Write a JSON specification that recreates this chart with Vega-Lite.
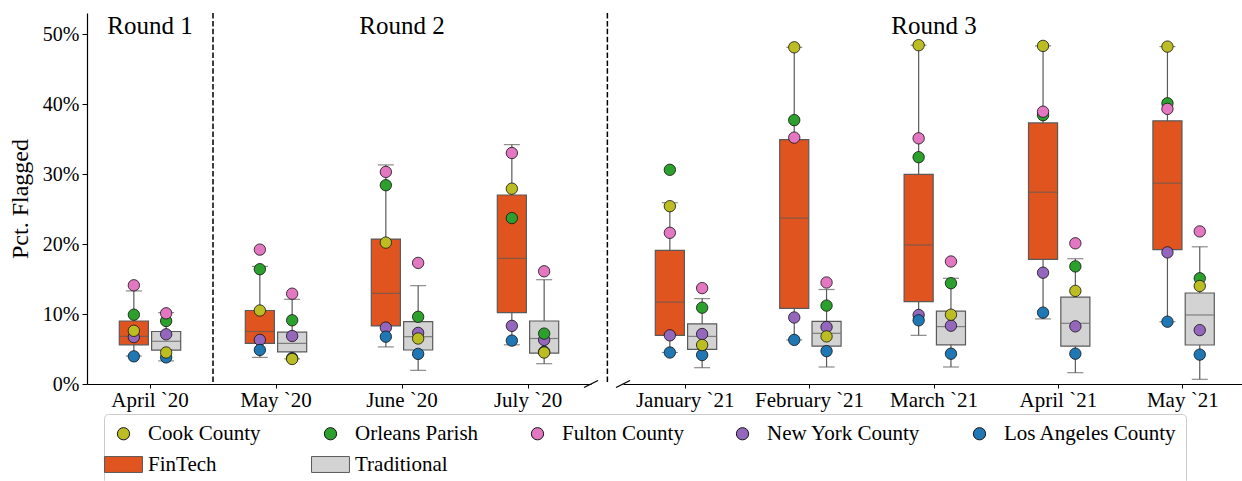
{
  "$schema": "https://vega.github.io/schema/vega-lite/v6.json",
  "padding": {"left": 8, "top": 12, "right": 0, "bottom": 0},
  "background": "white",
  "spacing": 4,
  "config": {
    "font": "Liberation Serif",
    "view": {"stroke": null},
    "axis": {"labelFont": "Liberation Serif", "labelFontSize": 20, "labelColor": "black", "domainColor": "black", "domainWidth": 1.2, "tickColor": "black", "tickWidth": 1, "titleFont": "Liberation Serif", "titleFontWeight": "normal", "titleColor": "black", "grid": false},
    "legend": {"labelFont": "Liberation Serif", "labelFontSize": 21, "labelColor": "black", "symbolSize": 150, "symbolStrokeWidth": 1, "labelOffset": 14, "columnPadding": 48, "rowPadding": 9, "padding": 9, "strokeColor": "#cccccc", "cornerRadius": 4, "fillColor": "white", "symbolOpacity": 1, "labelLimit": 300}
  },
  "datasets": {
    "boxes": [
      {"month":"April `20","round":"Round 1","type":"FinTech","lower":0.040,"q1":0.056,"median":0.068,"q3":0.090,"upper":0.133},
      {"month":"April `20","round":"Round 1","type":"Traditional","lower":0.033,"q1":0.0485,"median":0.061,"q3":0.075,"upper":0.102},
      {"month":"May `20","round":"Round 2","type":"FinTech","lower":0.038,"q1":0.058,"median":0.075,"q3":0.105,"upper":0.168},
      {"month":"May `20","round":"Round 2","type":"Traditional","lower":0.036,"q1":0.046,"median":0.058,"q3":0.074,"upper":0.121},
      {"month":"June `20","round":"Round 2","type":"FinTech","lower":0.053,"q1":0.083,"median":0.1295,"q3":0.207,"upper":0.313},
      {"month":"June `20","round":"Round 2","type":"Traditional","lower":0.0195,"q1":0.0486,"median":0.0676,"q3":0.089,"upper":0.1405},
      {"month":"July `20","round":"Round 2","type":"FinTech","lower":0.056,"q1":0.102,"median":0.1795,"q3":0.270,"upper":0.342},
      {"month":"July `20","round":"Round 2","type":"Traditional","lower":0.029,"q1":0.044,"median":0.065,"q3":0.090,"upper":0.149},
      {"month":"January `21","round":"Round 3","type":"FinTech","lower":0.045,"q1":0.0695,"median":0.117,"q3":0.191,"upper":0.259},
      {"month":"January `21","round":"Round 3","type":"Traditional","lower":0.0233,"q1":0.0495,"median":0.068,"q3":0.086,"upper":0.122},
      {"month":"February `21","round":"Round 3","type":"FinTech","lower":0.063,"q1":0.108,"median":0.237,"q3":0.349,"upper":0.481},
      {"month":"February `21","round":"Round 3","type":"Traditional","lower":0.0243,"q1":0.054,"median":0.0724,"q3":0.0895,"upper":0.135},
      {"month":"March `21","round":"Round 3","type":"FinTech","lower":0.0695,"q1":0.1176,"median":0.1986,"q3":0.2995,"upper":0.484},
      {"month":"March `21","round":"Round 3","type":"Traditional","lower":0.0243,"q1":0.056,"median":0.082,"q3":0.104,"upper":0.151},
      {"month":"April `21","round":"Round 3","type":"FinTech","lower":0.093,"q1":0.178,"median":0.274,"q3":0.373,"upper":0.483},
      {"month":"April `21","round":"Round 3","type":"Traditional","lower":0.0162,"q1":0.054,"median":0.0867,"q3":0.124,"upper":0.179},
      {"month":"May `21","round":"Round 3","type":"FinTech","lower":0.089,"q1":0.192,"median":0.287,"q3":0.376,"upper":0.482},
      {"month":"May `21","round":"Round 3","type":"Traditional","lower":0.0067,"q1":0.0557,"median":0.0986,"q3":0.130,"upper":0.196}
    ],
    "points": [
      {"month":"April `20","round":"Round 1","type":"FinTech","series":"New York County","pct":0.067},
      {"month":"April `20","round":"Round 1","type":"FinTech","series":"Los Angeles County","pct":0.0395},
      {"month":"April `20","round":"Round 1","type":"FinTech","series":"Orleans Parish","pct":0.099},
      {"month":"April `20","round":"Round 1","type":"FinTech","series":"Fulton County","pct":0.141},
      {"month":"April `20","round":"Round 1","type":"FinTech","series":"Cook County","pct":0.076},
      {"month":"April `20","round":"Round 1","type":"Traditional","series":"New York County","pct":0.071},
      {"month":"April `20","round":"Round 1","type":"Traditional","series":"Los Angeles County","pct":0.038},
      {"month":"April `20","round":"Round 1","type":"Traditional","series":"Orleans Parish","pct":0.090},
      {"month":"April `20","round":"Round 1","type":"Traditional","series":"Fulton County","pct":0.101},
      {"month":"April `20","round":"Round 1","type":"Traditional","series":"Cook County","pct":0.045},
      {"month":"May `20","round":"Round 2","type":"FinTech","series":"New York County","pct":0.063},
      {"month":"May `20","round":"Round 2","type":"FinTech","series":"Los Angeles County","pct":0.0486},
      {"month":"May `20","round":"Round 2","type":"FinTech","series":"Orleans Parish","pct":0.164},
      {"month":"May `20","round":"Round 2","type":"FinTech","series":"Fulton County","pct":0.192},
      {"month":"May `20","round":"Round 2","type":"FinTech","series":"Cook County","pct":0.105},
      {"month":"May `20","round":"Round 2","type":"Traditional","series":"New York County","pct":0.0686},
      {"month":"May `20","round":"Round 2","type":"Traditional","series":"Los Angeles County","pct":0.037},
      {"month":"May `20","round":"Round 2","type":"Traditional","series":"Orleans Parish","pct":0.091},
      {"month":"May `20","round":"Round 2","type":"Traditional","series":"Fulton County","pct":0.129},
      {"month":"May `20","round":"Round 2","type":"Traditional","series":"Cook County","pct":0.0357},
      {"month":"June `20","round":"Round 2","type":"FinTech","series":"New York County","pct":0.0805},
      {"month":"June `20","round":"Round 2","type":"FinTech","series":"Los Angeles County","pct":0.0676},
      {"month":"June `20","round":"Round 2","type":"FinTech","series":"Orleans Parish","pct":0.284},
      {"month":"June `20","round":"Round 2","type":"FinTech","series":"Fulton County","pct":0.303},
      {"month":"June `20","round":"Round 2","type":"FinTech","series":"Cook County","pct":0.202},
      {"month":"June `20","round":"Round 2","type":"Traditional","series":"New York County","pct":0.073},
      {"month":"June `20","round":"Round 2","type":"Traditional","series":"Los Angeles County","pct":0.043},
      {"month":"June `20","round":"Round 2","type":"Traditional","series":"Orleans Parish","pct":0.096},
      {"month":"June `20","round":"Round 2","type":"Traditional","series":"Fulton County","pct":0.173},
      {"month":"June `20","round":"Round 2","type":"Traditional","series":"Cook County","pct":0.065},
      {"month":"July `20","round":"Round 2","type":"FinTech","series":"New York County","pct":0.083},
      {"month":"July `20","round":"Round 2","type":"FinTech","series":"Los Angeles County","pct":0.062},
      {"month":"July `20","round":"Round 2","type":"FinTech","series":"Orleans Parish","pct":0.237},
      {"month":"July `20","round":"Round 2","type":"FinTech","series":"Fulton County","pct":0.330},
      {"month":"July `20","round":"Round 2","type":"FinTech","series":"Cook County","pct":0.279},
      {"month":"July `20","round":"Round 2","type":"Traditional","series":"New York County","pct":0.063},
      {"month":"July `20","round":"Round 2","type":"Traditional","series":"Los Angeles County","pct":0.046},
      {"month":"July `20","round":"Round 2","type":"Traditional","series":"Orleans Parish","pct":0.072},
      {"month":"July `20","round":"Round 2","type":"Traditional","series":"Fulton County","pct":0.161},
      {"month":"July `20","round":"Round 2","type":"Traditional","series":"Cook County","pct":0.045},
      {"month":"January `21","round":"Round 3","type":"FinTech","series":"New York County","pct":0.0695},
      {"month":"January `21","round":"Round 3","type":"FinTech","series":"Los Angeles County","pct":0.045},
      {"month":"January `21","round":"Round 3","type":"FinTech","series":"Orleans Parish","pct":0.306},
      {"month":"January `21","round":"Round 3","type":"FinTech","series":"Fulton County","pct":0.216},
      {"month":"January `21","round":"Round 3","type":"FinTech","series":"Cook County","pct":0.254},
      {"month":"January `21","round":"Round 3","type":"Traditional","series":"New York County","pct":0.0714},
      {"month":"January `21","round":"Round 3","type":"Traditional","series":"Los Angeles County","pct":0.0414},
      {"month":"January `21","round":"Round 3","type":"Traditional","series":"Orleans Parish","pct":0.109},
      {"month":"January `21","round":"Round 3","type":"Traditional","series":"Fulton County","pct":0.137},
      {"month":"January `21","round":"Round 3","type":"Traditional","series":"Cook County","pct":0.0557},
      {"month":"February `21","round":"Round 3","type":"FinTech","series":"New York County","pct":0.095},
      {"month":"February `21","round":"Round 3","type":"FinTech","series":"Los Angeles County","pct":0.063},
      {"month":"February `21","round":"Round 3","type":"FinTech","series":"Orleans Parish","pct":0.377},
      {"month":"February `21","round":"Round 3","type":"FinTech","series":"Fulton County","pct":0.352},
      {"month":"February `21","round":"Round 3","type":"FinTech","series":"Cook County","pct":0.481},
      {"month":"February `21","round":"Round 3","type":"Traditional","series":"New York County","pct":0.0814},
      {"month":"February `21","round":"Round 3","type":"Traditional","series":"Los Angeles County","pct":0.047},
      {"month":"February `21","round":"Round 3","type":"Traditional","series":"Orleans Parish","pct":0.112},
      {"month":"February `21","round":"Round 3","type":"Traditional","series":"Fulton County","pct":0.145},
      {"month":"February `21","round":"Round 3","type":"Traditional","series":"Cook County","pct":0.068},
      {"month":"March `21","round":"Round 3","type":"FinTech","series":"New York County","pct":0.0986},
      {"month":"March `21","round":"Round 3","type":"FinTech","series":"Los Angeles County","pct":0.091},
      {"month":"March `21","round":"Round 3","type":"FinTech","series":"Orleans Parish","pct":0.324},
      {"month":"March `21","round":"Round 3","type":"FinTech","series":"Fulton County","pct":0.351},
      {"month":"March `21","round":"Round 3","type":"FinTech","series":"Cook County","pct":0.484},
      {"month":"March `21","round":"Round 3","type":"Traditional","series":"New York County","pct":0.0833},
      {"month":"March `21","round":"Round 3","type":"Traditional","series":"Los Angeles County","pct":0.0433},
      {"month":"March `21","round":"Round 3","type":"Traditional","series":"Orleans Parish","pct":0.144},
      {"month":"March `21","round":"Round 3","type":"Traditional","series":"Fulton County","pct":0.175},
      {"month":"March `21","round":"Round 3","type":"Traditional","series":"Cook County","pct":0.099},
      {"month":"April `21","round":"Round 3","type":"FinTech","series":"New York County","pct":0.159},
      {"month":"April `21","round":"Round 3","type":"FinTech","series":"Los Angeles County","pct":0.102},
      {"month":"April `21","round":"Round 3","type":"FinTech","series":"Orleans Parish","pct":0.384},
      {"month":"April `21","round":"Round 3","type":"FinTech","series":"Fulton County","pct":0.389},
      {"month":"April `21","round":"Round 3","type":"FinTech","series":"Cook County","pct":0.483},
      {"month":"April `21","round":"Round 3","type":"Traditional","series":"New York County","pct":0.0824},
      {"month":"April `21","round":"Round 3","type":"Traditional","series":"Los Angeles County","pct":0.0433},
      {"month":"April `21","round":"Round 3","type":"Traditional","series":"Orleans Parish","pct":0.168},
      {"month":"April `21","round":"Round 3","type":"Traditional","series":"Fulton County","pct":0.201},
      {"month":"April `21","round":"Round 3","type":"Traditional","series":"Cook County","pct":0.133},
      {"month":"May `21","round":"Round 3","type":"FinTech","series":"New York County","pct":0.188},
      {"month":"May `21","round":"Round 3","type":"FinTech","series":"Los Angeles County","pct":0.089},
      {"month":"May `21","round":"Round 3","type":"FinTech","series":"Orleans Parish","pct":0.401},
      {"month":"May `21","round":"Round 3","type":"FinTech","series":"Fulton County","pct":0.393},
      {"month":"May `21","round":"Round 3","type":"FinTech","series":"Cook County","pct":0.482},
      {"month":"May `21","round":"Round 3","type":"Traditional","series":"New York County","pct":0.077},
      {"month":"May `21","round":"Round 3","type":"Traditional","series":"Los Angeles County","pct":0.042},
      {"month":"May `21","round":"Round 3","type":"Traditional","series":"Orleans Parish","pct":0.151},
      {"month":"May `21","round":"Round 3","type":"Traditional","series":"Fulton County","pct":0.218},
      {"month":"May `21","round":"Round 3","type":"Traditional","series":"Cook County","pct":0.140}
    ],
    "rounds": [
      {"month":"April `20","round":"Round 1","label":"Round 1"},
      {"month":"June `20","round":"Round 2","label":"Round 2"},
      {"month":"March `21","round":"Round 3","label":"Round 3"}
    ]
  },
  "resolve": {"scale": {"y": "shared"}},
  "hconcat": [
    {
      "width": 504,
      "height": 371,
      "layer": [
        {
          "data": {"name": "boxes"},
          "transform": [{"filter": "datum.round != 'Round 3'"}],
          "mark": {"type": "rule", "color": "#5a5a5a", "strokeWidth": 1.2},
          "encoding": {
            "x": {"field": "month", "type": "nominal", "scale": {"domain": ["April `20", "May `20", "June `20", "July `20"], "paddingInner": 0, "paddingOuter": 0}, "axis": {"title": null, "labelAngle": 0, "tickSize": 4, "labelPadding": 1, "labelFontSize": 21}},
            "xOffset": {"field": "type", "type": "nominal", "scale": {"domain": ["FinTech", "Traditional"], "paddingInner": 0.1, "paddingOuter": 1.08}},
            "y": {"field": "lower", "type": "quantitative", "scale": {"domain": [0, 0.53], "nice": false}, "axis": {"title": "Pct. Flagged", "titleFontSize": 24, "titlePadding": 10, "values": [0, 0.1, 0.2, 0.3, 0.4, 0.5], "format": ".0%", "tickSize": 5, "labelPadding": 3}},
            "y2": {"field": "upper"}
          }
        },
        {
          "data": {"name": "boxes"},
          "transform": [{"filter": "datum.round != 'Round 3'"}],
          "mark": {"type": "tick", "orient": "horizontal", "color": "#5a5a5a", "thickness": 1.2, "size": 16},
          "encoding": {
            "x": {"field": "month", "type": "nominal"},
            "xOffset": {"field": "type", "type": "nominal"},
            "y": {"field": "lower", "type": "quantitative"}
          }
        },
        {
          "data": {"name": "boxes"},
          "transform": [{"filter": "datum.round != 'Round 3'"}],
          "mark": {"type": "tick", "orient": "horizontal", "color": "#5a5a5a", "thickness": 1.2, "size": 16},
          "encoding": {
            "x": {"field": "month", "type": "nominal"},
            "xOffset": {"field": "type", "type": "nominal"},
            "y": {"field": "upper", "type": "quantitative"}
          }
        },
        {
          "data": {"name": "boxes"},
          "transform": [{"filter": "datum.round != 'Round 3'"}],
          "mark": {"type": "bar", "strokeWidth": 1.2, "opacity": 1},
          "encoding": {
            "x": {"field": "month", "type": "nominal"},
            "xOffset": {"field": "type", "type": "nominal"},
            "y": {"field": "q1", "type": "quantitative"},
            "y2": {"field": "q3"},
            "stroke": {"field": "type", "type": "nominal", "scale": {"domain": ["Cook County", "Orleans Parish", "Fulton County", "New York County", "Los Angeles County", "FinTech", "Traditional"], "range": ["#111111", "#111111", "#111111", "#111111", "#111111", "#5a5a5a", "#5a5a5a"]}, "legend": {"title": null, "orient": "none", "legendX": 17, "legendY": 401, "direction": "horizontal", "columns": 5}},
            "fill": {"field": "type", "type": "nominal", "scale": {"domain": ["Cook County", "Orleans Parish", "Fulton County", "New York County", "Los Angeles County", "FinTech", "Traditional"], "range": ["#bcbd22", "#2ca02c", "#e377c2", "#9467bd", "#1f77b4", "#e0541f", "#d3d3d3"]}, "legend": {"title": null, "orient": "none", "legendX": 17, "legendY": 401, "direction": "horizontal", "columns": 5}}
          }
        },
        {
          "data": {"name": "boxes"},
          "transform": [{"filter": "datum.round != 'Round 3'"}],
          "mark": {"type": "tick", "orient": "horizontal", "color": "#5a5a5a", "thickness": 1.2, "size": 28},
          "encoding": {
            "x": {"field": "month", "type": "nominal"},
            "xOffset": {"field": "type", "type": "nominal"},
            "y": {"field": "median", "type": "quantitative"}
          }
        },
        {
          "data": {"name": "points"},
          "transform": [{"filter": "datum.round != 'Round 3'"}],
          "mark": {"type": "point", "filled": true, "size": 130, "strokeWidth": 0.8, "opacity": 1},
          "encoding": {
            "x": {"field": "month", "type": "nominal"},
            "xOffset": {"field": "type", "type": "nominal"},
            "y": {"field": "pct", "type": "quantitative"},
            "stroke": {"field": "series", "type": "nominal", "scale": {"domain": ["Cook County", "Orleans Parish", "Fulton County", "New York County", "Los Angeles County", "FinTech", "Traditional"], "range": ["#111111", "#111111", "#111111", "#111111", "#111111", "#5a5a5a", "#5a5a5a"]}, "legend": {"title": null, "orient": "none", "legendX": 17, "legendY": 401, "direction": "horizontal", "columns": 5}},
            "fill": {"field": "series", "type": "nominal", "scale": {"domain": ["Cook County", "Orleans Parish", "Fulton County", "New York County", "Los Angeles County", "FinTech", "Traditional"], "range": ["#bcbd22", "#2ca02c", "#e377c2", "#9467bd", "#1f77b4", "#e0541f", "#d3d3d3"]}, "legend": {"title": null, "orient": "none", "legendX": 17, "legendY": 401, "direction": "horizontal", "columns": 5}},
            "shape": {"field": "series", "type": "nominal", "scale": {"domain": ["Cook County", "Orleans Parish", "Fulton County", "New York County", "Los Angeles County", "FinTech", "Traditional"], "range": ["circle", "circle", "circle", "circle", "circle", "M-3.1,-1.3H3.1V1.3H-3.1Z", "M-3.1,-1.3H3.1V1.3H-3.1Z"]}, "legend": {"title": null, "orient": "none", "legendX": 17, "legendY": 401, "direction": "horizontal", "columns": 5}}
          }
        },
        {
          "data": {"name": "rounds"},
          "transform": [{"filter": "datum.round != 'Round 3'"}],
          "mark": {"type": "text", "fontSize": 25, "baseline": "alphabetic", "align": "center", "color": "black", "font": "Liberation Serif"},
          "encoding": {
            "x": {"field": "month", "type": "nominal"},
            "y": {"datum": 0.5, "type": "quantitative"},
            "text": {"field": "label"}
          }
        },
        {
          "data": {"values": [{"month": "May `20"}]},
          "mark": {"type": "rule", "color": "black", "strokeWidth": 1.5, "strokeDash": [5.5, 2.4]},
          "encoding": {
            "x": {"field": "month", "type": "nominal", "bandPosition": 0}
          }
        },
        {
          "data": {"values": [{"month": "July `20"}]},
          "mark": {"type": "rule", "color": "black", "strokeWidth": 1.5, "strokeDash": [5.5, 2.4]},
          "encoding": {
            "x": {"field": "month", "type": "nominal", "bandPosition": 1.13}
          }
        },
        {
          "data": {"values": [{"month": "July `20"}]},
          "mark": {"type": "point", "shape": "M-1,0.5L1,-0.5", "filled": false, "stroke": "black", "strokeWidth": 1.3, "size": 196, "opacity": 1},
          "encoding": {
            "x": {"field": "month", "type": "nominal", "bandPosition": 1},
            "y": {"datum": 0, "type": "quantitative"}
          }
        }
      ]
    },
    {
      "width": 622,
      "height": 371,
      "layer": [
        {
          "data": {"name": "boxes"},
          "transform": [{"filter": "datum.round == 'Round 3'"}],
          "mark": {"type": "rule", "color": "#5a5a5a", "strokeWidth": 1.2},
          "encoding": {
            "x": {"field": "month", "type": "nominal", "scale": {"domain": ["January `21", "February `21", "March `21", "April `21", "May `21"], "paddingInner": 0, "paddingOuter": 0}, "axis": {"title": null, "labelAngle": 0, "tickSize": 4, "labelPadding": 1, "labelFontSize": 21}},
            "xOffset": {"field": "type", "type": "nominal", "scale": {"domain": ["FinTech", "Traditional"], "paddingInner": 0.1, "paddingOuter": 1.08}},
            "y": {"field": "lower", "type": "quantitative", "scale": {"domain": [0, 0.53], "nice": false}, "axis": null},
            "y2": {"field": "upper"}
          }
        },
        {
          "data": {"name": "boxes"},
          "transform": [{"filter": "datum.round == 'Round 3'"}],
          "mark": {"type": "tick", "orient": "horizontal", "color": "#5a5a5a", "thickness": 1.2, "size": 16},
          "encoding": {
            "x": {"field": "month", "type": "nominal"},
            "xOffset": {"field": "type", "type": "nominal"},
            "y": {"field": "lower", "type": "quantitative", "axis": null}
          }
        },
        {
          "data": {"name": "boxes"},
          "transform": [{"filter": "datum.round == 'Round 3'"}],
          "mark": {"type": "tick", "orient": "horizontal", "color": "#5a5a5a", "thickness": 1.2, "size": 16},
          "encoding": {
            "x": {"field": "month", "type": "nominal"},
            "xOffset": {"field": "type", "type": "nominal"},
            "y": {"field": "upper", "type": "quantitative", "axis": null}
          }
        },
        {
          "data": {"name": "boxes"},
          "transform": [{"filter": "datum.round == 'Round 3'"}],
          "mark": {"type": "bar", "strokeWidth": 1.2, "opacity": 1},
          "encoding": {
            "x": {"field": "month", "type": "nominal"},
            "xOffset": {"field": "type", "type": "nominal"},
            "y": {"field": "q1", "type": "quantitative", "axis": null},
            "y2": {"field": "q3"},
            "stroke": {"field": "type", "type": "nominal", "scale": {"domain": ["Cook County", "Orleans Parish", "Fulton County", "New York County", "Los Angeles County", "FinTech", "Traditional"], "range": ["#111111", "#111111", "#111111", "#111111", "#111111", "#5a5a5a", "#5a5a5a"]}, "legend": {"title": null, "orient": "none", "legendX": 17, "legendY": 401, "direction": "horizontal", "columns": 5}},
            "fill": {"field": "type", "type": "nominal", "scale": {"domain": ["Cook County", "Orleans Parish", "Fulton County", "New York County", "Los Angeles County", "FinTech", "Traditional"], "range": ["#bcbd22", "#2ca02c", "#e377c2", "#9467bd", "#1f77b4", "#e0541f", "#d3d3d3"]}, "legend": {"title": null, "orient": "none", "legendX": 17, "legendY": 401, "direction": "horizontal", "columns": 5}}
          }
        },
        {
          "data": {"name": "boxes"},
          "transform": [{"filter": "datum.round == 'Round 3'"}],
          "mark": {"type": "tick", "orient": "horizontal", "color": "#5a5a5a", "thickness": 1.2, "size": 28},
          "encoding": {
            "x": {"field": "month", "type": "nominal"},
            "xOffset": {"field": "type", "type": "nominal"},
            "y": {"field": "median", "type": "quantitative", "axis": null}
          }
        },
        {
          "data": {"name": "points"},
          "transform": [{"filter": "datum.round == 'Round 3'"}],
          "mark": {"type": "point", "filled": true, "size": 130, "strokeWidth": 0.8, "opacity": 1},
          "encoding": {
            "x": {"field": "month", "type": "nominal"},
            "xOffset": {"field": "type", "type": "nominal"},
            "y": {"field": "pct", "type": "quantitative", "axis": null},
            "stroke": {"field": "series", "type": "nominal", "scale": {"domain": ["Cook County", "Orleans Parish", "Fulton County", "New York County", "Los Angeles County", "FinTech", "Traditional"], "range": ["#111111", "#111111", "#111111", "#111111", "#111111", "#5a5a5a", "#5a5a5a"]}, "legend": {"title": null, "orient": "none", "legendX": 17, "legendY": 401, "direction": "horizontal", "columns": 5}},
            "fill": {"field": "series", "type": "nominal", "scale": {"domain": ["Cook County", "Orleans Parish", "Fulton County", "New York County", "Los Angeles County", "FinTech", "Traditional"], "range": ["#bcbd22", "#2ca02c", "#e377c2", "#9467bd", "#1f77b4", "#e0541f", "#d3d3d3"]}, "legend": {"title": null, "orient": "none", "legendX": 17, "legendY": 401, "direction": "horizontal", "columns": 5}},
            "shape": {"field": "series", "type": "nominal", "scale": {"domain": ["Cook County", "Orleans Parish", "Fulton County", "New York County", "Los Angeles County", "FinTech", "Traditional"], "range": ["circle", "circle", "circle", "circle", "circle", "M-3.1,-1.3H3.1V1.3H-3.1Z", "M-3.1,-1.3H3.1V1.3H-3.1Z"]}, "legend": {"title": null, "orient": "none", "legendX": 17, "legendY": 401, "direction": "horizontal", "columns": 5}}
          }
        },
        {
          "data": {"name": "rounds"},
          "transform": [{"filter": "datum.round == 'Round 3'"}],
          "mark": {"type": "text", "fontSize": 25, "baseline": "alphabetic", "align": "center", "color": "black", "font": "Liberation Serif"},
          "encoding": {
            "x": {"field": "month", "type": "nominal"},
            "y": {"datum": 0.5, "type": "quantitative", "axis": null},
            "text": {"field": "label"}
          }
        },
        {
          "data": {"values": [{"month": "January `21"}]},
          "mark": {"type": "point", "shape": "M-1,0.5L1,-0.5", "filled": false, "stroke": "black", "strokeWidth": 1.3, "size": 196, "opacity": 1},
          "encoding": {
            "x": {"field": "month", "type": "nominal", "bandPosition": 0},
            "y": {"datum": 0, "type": "quantitative", "axis": null}
          }
        }
      ]
    }
  ]
}
